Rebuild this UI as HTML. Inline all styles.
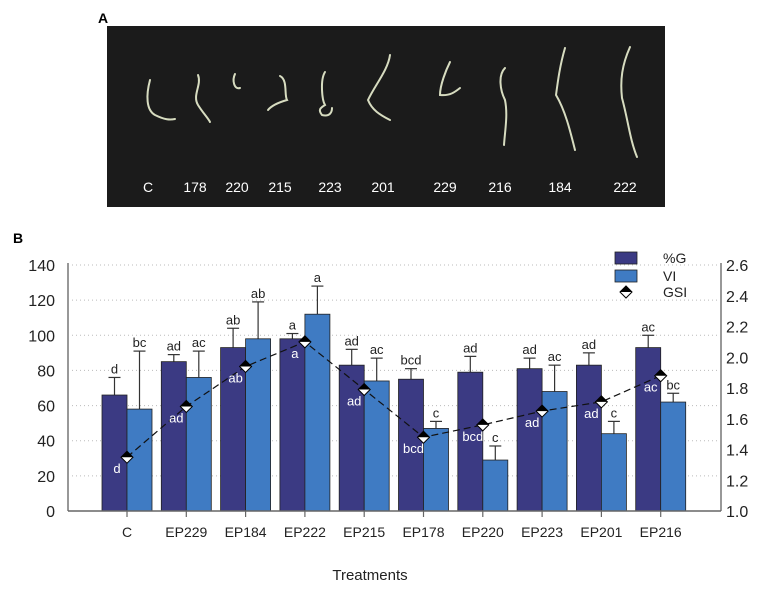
<!DOCTYPE html>
<html><head><meta charset="utf-8"><style>
body{margin:0;background:#fff;}
svg text{font-family:"Liberation Sans",Arial,sans-serif;}
</style></head><body>
<svg id="c" width="767" height="595" viewBox="0 0 767 595" xmlns="http://www.w3.org/2000/svg">
<text x="98" y="23" font-size="14" font-weight="bold">A</text>
<rect x="107" y="26" width="558" height="181" fill="#1b1b1b"/>
<g id="seeds" fill="none" stroke-linecap="round"></g>
<text x="13" y="243" font-size="14" font-weight="bold">B</text>
<g id="grid"></g>
<g id="bars"></g>
<g id="gsi"></g>
<g id="axes"></g>
<g>
<rect x="615" y="252" width="22" height="12" fill="#3b3a83" stroke="#222" stroke-width="0.8"/>
<text x="663" y="263" font-size="14" fill="#222">%G</text>
<rect x="615" y="270" width="22" height="12" fill="#3f7bc3" stroke="#222" stroke-width="0.8"/>
<text x="663" y="281" font-size="14" fill="#222">VI</text>
<path d="M620,292 L626,286 L632,292 L626,298 Z" fill="#fff" stroke="#000"/>
<path d="M620,292 L626,286 L632,292 Z" fill="#000"/>
<text x="663" y="297" font-size="14" fill="#222">GSI</text>
</g>
<text x="370" y="580" font-size="15" fill="#222" text-anchor="middle">Treatments</text>
</svg>
<script>
const categories=["C","EP229","EP184","EP222","EP215","EP178","EP220","EP223","EP201","EP216"];
const gValues=[66,85,93,98,83,75,79,81,83,93];
const gErrTop=[76,89,104,101,92,81,88,87,90,100];
const gLetters=["d","ad","ab","a","ad","bcd","ad","ad","ad","ac"];
const viValues=[58,76,98,112,74,47,29,68,44,62];
const viErrTop=[91,91,119,128,87,51,37,83,51,67];
const viLetters=["bc","ac","ab","a","ac","c","c","ac","c","bc"];
const gsiValues=[1.35,1.68,1.94,2.10,1.79,1.48,1.56,1.65,1.71,1.88];
const gsiLetters=["d","ad","ab","a","ad","bcd","bcd","ad","ad","ac"];
const leftTicks=[0,20,40,60,80,100,120,140];
const rightTicks=["1.0","1.2","1.4","1.6","1.8","2.0","2.2","2.4","2.6"];
const photoLabels=["C","178","220","215","223","201","229","216","184","222"];

const NS="http://www.w3.org/2000/svg";
const X0=68,X1=721,Y0=511,Y1=265;
const yL=v=>Y0-(v/140)*(Y0-Y1);
const yR=v=>Y0-((v-1.0)/1.6)*(Y0-Y1);
const xC=i=>127+i*59.3;
const BW=25;
function mk(tag,attrs,parent){const e=document.createElementNS(NS,tag);for(const k in attrs)e.setAttribute(k,attrs[k]);parent.appendChild(e);return e;}
const grid=document.getElementById('grid'),bars=document.getElementById('bars'),gsi=document.getElementById('gsi'),axes=document.getElementById('axes');

leftTicks.forEach((t,i)=>{
  if(i>0){const l=mk('line',{x1:X0+4,x2:X1-4,y1:yL(t),y2:yL(t),stroke:'#bbb','stroke-width':1,'stroke-dasharray':'1 3'},grid);
  
  }
  const tx=mk('text',{x:55,y:yL(t)+6,'font-size':16,'text-anchor':'end',fill:'#222'},axes);tx.textContent=t;
  
  
});
rightTicks.forEach(t=>{
  const tx=mk('text',{x:726,y:yR(parseFloat(t))+6,'font-size':16,fill:'#222'},axes);tx.textContent=t;
  
  
});
let a=mk('line',{x1:X0,x2:X0,y1:Y1-2,y2:Y0,stroke:'#777','stroke-width':1.5},axes);

a=mk('line',{x1:X1,x2:X1,y1:Y1-2,y2:Y0,stroke:'#777','stroke-width':1.5},axes);

a=mk('line',{x1:X0,x2:X1,y1:Y0,y2:Y0,stroke:'#666','stroke-width':1.5},axes);


function errbar(x,top,base){
  mk('line',{x1:x,x2:x,y1:yL(top),y2:yL(base),stroke:'#333','stroke-width':1.2},bars);
  mk('line',{x1:x-6,x2:x+6,y1:yL(top),y2:yL(top),stroke:'#333','stroke-width':1.2},bars);
}
categories.forEach((c,i)=>{
  const cx=xC(i);
  errbar(cx-BW/2,gErrTop[i],gValues[i]);
  errbar(cx+BW/2,viErrTop[i],viValues[i]);
  const r1=mk('rect',{x:cx-BW,y:yL(gValues[i]),width:BW,height:Y0-yL(gValues[i]),fill:'#3b3a83',stroke:'#222','stroke-width':0.8},bars);
  
  
  const r2=mk('rect',{x:cx,y:yL(viValues[i]),width:BW,height:Y0-yL(viValues[i]),fill:'#3f7bc3',stroke:'#222','stroke-width':0.8},bars);
  
  
  let t=mk('text',{x:cx-BW/2,y:yL(gErrTop[i])-4,'font-size':13,'text-anchor':'middle',fill:'#222'},bars);t.textContent=gLetters[i];
  
  t=mk('text',{x:cx+BW/2,y:yL(viErrTop[i])-4,'font-size':13,'text-anchor':'middle',fill:'#222'},bars);t.textContent=viLetters[i];
  
  mk('line',{x1:cx,x2:cx,y1:Y0,y2:Y0+6,stroke:'#666','stroke-width':1.2},axes);
  t=mk('text',{x:cx,y:537,'font-size':14,'text-anchor':'middle',fill:'#222'},axes);t.textContent=c;
  
});
const pts=gsiValues.map((v,i)=>xC(i)+','+yR(v)).join(' ');
const pl=mk('polyline',{points:pts,fill:'none',stroke:'#111','stroke-width':1.2,'stroke-dasharray':'7 4'},gsi);

gsiValues.forEach((v,i)=>{
  const x=xC(i),y=yR(v);
  const d=mk('path',{d:`M${x-6},${y} L${x},${y-6} L${x+6},${y} L${x},${y+6} Z`,fill:'#fff',stroke:'#000','stroke-width':1},gsi);
  
  mk('path',{d:`M${x-6},${y} L${x},${y-6} L${x+6},${y} Z`,fill:'#000'},gsi);
  const t=mk('text',{x:x-10,y:y+16,'font-size':13,'text-anchor':'middle',fill:'#fff'},gsi);t.textContent=gsiLetters[i];
  
});

// photo seedlings (decorative)
const seeds=document.getElementById('seeds');
const px=[148,195,237,280,330,383,445,500,560,625];
const seedPaths=[
 "M150,80 C146,95 146,110 155,115 C165,120 170,120 175,119",
 "M198,75 C202,85 192,95 198,105 C203,113 208,118 210,122",
 "M235,74 C232,80 234,90 240,88",
 "M280,76 C288,80 284,95 287,100 C280,102 272,105 268,110",
 "M325,72 C320,80 322,100 325,105 C320,108 318,110 322,115 C330,117 332,112 332,108",
 "M390,55 C388,70 375,85 368,100 C372,110 380,115 390,120",
 "M450,62 C446,70 440,85 440,95 C450,96 455,92 460,88",
 "M505,68 C498,75 500,90 505,100 C508,115 505,130 504,145",
 "M565,48 C560,65 558,80 556,95 C565,110 570,130 575,150",
 "M630,47 C622,65 620,80 622,98 C628,120 630,140 637,157"];
seedPaths.forEach(p=>{
  const e=mk('path',{d:p,stroke:'#d7dcc0','stroke-width':2},seeds);
  
});
photoLabels.forEach((l,i)=>{
  const t=mk('text',{x:px[i],y:192,'font-size':14,'text-anchor':'middle',fill:'#fff'},seeds);t.textContent=l;
  
});
</script>
</body></html>
